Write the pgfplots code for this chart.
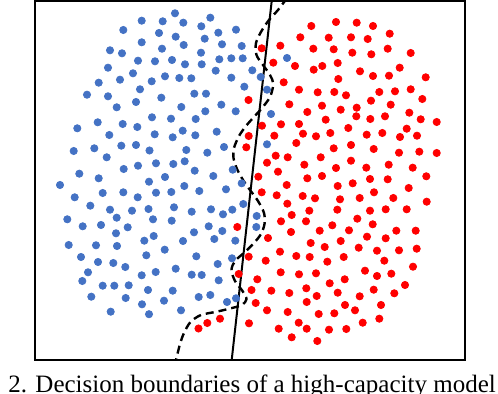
\documentclass[border=0pt]{standalone}
\usepackage{pgfplots}
\pgfplotsset{compat=1.18}
\usepackage{fontspec}
\setmainfont{Liberation Serif}
\definecolor{dotblue}{RGB}{68,114,196}
\definecolor{dotred}{RGB}{255,0,0}
\begin{document}
\begin{tikzpicture}
\begin{axis}[
  scale only axis,
  width=215pt, height=179.5pt,
  xmin=35, xmax=465, ymin=1, ymax=360,
  y dir=reverse,
  xtick=\empty, ytick=\empty,
  axis line style={line width=1pt},
]
% class A (blue)
\addplot[only marks, mark=*, mark size=1.8pt, color=dotblue, mark options={draw=none, fill=dotblue}] coordinates {
(141.7,20.7) (123.3,30) (141.7,42.3) (110,50.3) (122,53.3) (138,60.7) (108,67.7) (133,73.3)
(120,79.7) (151.7,81.3) (98.7,82.7) (140,89.3) (87,94.7) (108,96.3) (136,102) (116.7,107.3)
(152,117.3) (97.7,122.3) (122.7,124) (137.3,127) (77.3,128.3) (109.3,135) (121.3,145.7) (136,145)
(94.3,148.3) (73.7,151) (149.5,150.5) (106.7,157.3) (138,165.7) (123.7,169) (79.3,173.7) (98.7,178.3)
(175,13.3) (162.7,21.3) (183.3,22.7) (210.3,17.7) (201.3,26.3) (159,33) (175.7,36.7) (218.3,32.7)
(236,29.7) (204.7,38.7) (183.7,45) (222,44.3) (162,48.7) (241.7,46) (201,52.7) (155,61.3)
(172,60) (185,64.3) (201.7,64.3) (219.3,59.3) (231.3,58.3) (242.7,58.3) (215.7,70.7) (252.3,70.3)
(165,76.3) (179.3,78) (191.3,78.3) (231.3,77.7) (244.3,86.7) (194.3,93.7) (206,93.7) (161.3,97.7)
(181.3,107) (221.3,104.7) (205.3,111.3) (235.7,111.3) (171,118.7) (195.7,119) (154.7,134.3) (172.7,137.3)
(182.7,130.7) (195.3,135.3) (216.7,131.7) (224,147) (207.3,152.7) (186.3,150) (156,163.3) (173.3,164)
(184.7,161.3) (194.7,170.7) (232.7,169.7) (213.3,176) (165,177)
(287,58) (260.7,77) (267,89.7) (271,114) (267,144.3) (256.7,216) (256.3,227)
(60,185) (74.7,197.3) (102.7,193) (123.3,192.3) (137.7,197.3) (90.3,205.7) (110,209.7) (132,210.7)
(148.5,209) (67.3,219.3) (82.7,226.3) (101,225) (116.7,217.7) (127.7,227.3) (116,233.3) (68.7,245)
(96,245.3) (117,246) (144.3,240.7) (81,257) (98,262) (113.3,263) (125.3,267) (146.3,255.3)
(88,272.3) (82.3,281) (102.7,285.7) (114.3,285.7) (128.7,285.3) (141.7,275.3) (148,290) (91.3,296.7)
(125.7,298) (142,304.3) (149,314.2) (110.7,311.7) (149,181.7)
(184.3,186) (156,192.7) (171.3,192) (199.3,191) (226,189.3) (241.7,183.3) (243.3,204) (232.3,209.7)
(223,214.3) (211,209.3) (191.7,211.7) (174,207.3) (153,219.3) (171.7,220.7) (208.7,226.3) (222.3,231)
(194,232.3) (153.7,236) (183,241) (214.3,239) (235.3,240.7) (164.7,249.7) (196.3,256.3) (232,258.3)
(217.7,264) (155.7,272) (175.7,268.7) (191.7,274.7) (201.7,275) (218.7,280.3) (172.7,290.7) (198.7,297)
(210.3,295) (236,298.3) (227,302) (164,300.7) (181,310.3)
};
% class B (red)
\addplot[only marks, mark=*, mark size=1.8pt, color=dotred, mark options={draw=none, fill=dotred}] coordinates {
(248.5,100) (248.7,136) (246.3,147.3) (311.3,26) (336,22) (300.3,37.3) (328.7,37.7) (280.3,45.7)
(261.7,48.3) (313.3,48.7) (333.7,49.3) (352.3,52.7) (273.3,62.7) (295,66) (313.7,69.7) (322.3,66)
(337.7,63) (283.7,82.3) (338.3,79) (299,89.7) (317.7,92.3) (334.3,92) (346,95.3) (289.3,104.3)
(322,105.7) (340.7,109.7) (307.3,112) (325.7,119.7) (262,125.7) (281,124.3) (299,124) (348.3,128)
(274.3,135.7) (303,133.7) (316,136.3) (330.3,133) (296.3,143) (333.7,148.3) (351,145) (275.7,155.7)
(287.7,157.3) (320.7,157.3) (267,162.7) (304.3,164.7) (278,171.7) (336,168) (351,160.7) (258.3,176.7)
(307.3,178.3) (322,176)
(356.7,22.7) (373,26) (351,37.3) (367.7,39) (389.7,33.7) (371.3,54.3) (387.7,48.7) (410.7,53)
(360,71.3) (373,76) (389,75.7) (399.7,67.7) (425.7,77.3) (379.3,92) (395,91.3) (410.7,89.3)
(422.3,99) (371,100.7) (390.7,104.7) (356.7,107.7) (356.3,116.3) (370.3,119) (385,116.3) (409.3,112.7)
(420.7,119.3) (436.7,122) (366.7,134.7) (382.3,133) (400,137) (406.7,128.7) (417,135.7) (373.7,149)
(399,152.7) (419.3,151.7) (436.7,153) (366.3,167.7) (388.7,164.7) (412.7,167.7) (426.3,176.3) (370,179)
(387.7,179.3)
(237.3,227) (248.7,256.7) (238.7,274) (251.5,290) (249,323.3) (220,318.7) (207.3,323) (198.5,328.5)
(261.7,192.3) (286.7,185) (276.7,195.3) (302.7,196) (315,198.3) (337.7,186) (340,199.3) (287.3,203.7)
(309.3,210.7) (337.3,209.7) (291.7,215) (306,221.3) (281,221.3) (291,232) (268,238) (319.7,230.7)
(332.3,225.3) (349,230.3) (310.7,243) (324.7,247) (340.7,241) (280,251.7) (265.7,260.7) (296.3,256)
(309.7,257) (327.3,261.7) (343.7,257) (280.7,272.3) (299,274.3) (316,273.3) (257.3,279.3) (329.7,283.3)
(344.7,279.3) (271.3,290.7) (289.3,293) (306.3,288.3) (316.7,296) (337.7,292.7) (255.7,303) (306.7,302)
(345,305) (267,310.3) (287.7,312) (318.7,314) (334.3,313.3) (298.7,322.7) (278.7,328.7) (306.7,328.7)
(329,329.7) (346.3,329) (291.7,337.3) (317.3,341)
(352.7,183.3) (408.7,188) (374,192.3) (359.7,198) (393.3,198) (426.7,201.7) (370,210.7) (385.7,209.3)
(406.7,209.3) (357.3,218.7) (372.7,224.3) (396.3,230.7) (415.7,230.7) (367,236.7) (385.7,238.3) (358.7,247.7)
(377,250.7) (399,250.3) (416.7,248.7) (384.3,260.7) (413,266.7) (365,270.7) (377,276) (391.3,273.7)
(405,285) (373.7,289.7) (394.3,293.3) (359.7,296.3) (381,305) (355,310.3) (362.7,322.7) (379.3,318.7)
};
% linear boundary
\addplot[black, line width=1pt] coordinates {(271.7,1) (231.7,360)};
% high-capacity boundary
\addplot[black, line width=1.2pt, dash pattern=on 4pt off 2.5pt, smooth, tension=0.5] coordinates {
(287,-2) (278,10) (269,20) (261.5,31) (256,43) (256.5,55) (263,65) (270,75) (273.3,84)
(270,97) (262,108) (253,118) (246,126) (239,136) (234,148) (233.5,158) (237,169) (243,180)
(250,190) (258,201) (264,213) (264.5,224) (261,234) (254,243) (245,252) (235,261) (231.5,270)
(235,281) (242.5,291) (246.5,299) (242,305) (230,308.5) (216.7,311.7) (201,315) (190.5,322)
(184,333) (180,344) (175.5,362)
};
\end{axis}
\node[anchor=base west, inner sep=0pt, font=\fontsize{12.5}{14}\selectfont]
  at ([shift={(-13.5pt,-16.2pt)}]current axis.south west)
  {2. Decision boundaries of a high-capacity model};
\pgfresetboundingbox
\path[use as bounding box] ([shift={(-17.5pt,-17pt)}]current axis.south west) rectangle ([shift={(16.5pt,0.5pt)}]current axis.north east);
\end{tikzpicture}
\end{document}
